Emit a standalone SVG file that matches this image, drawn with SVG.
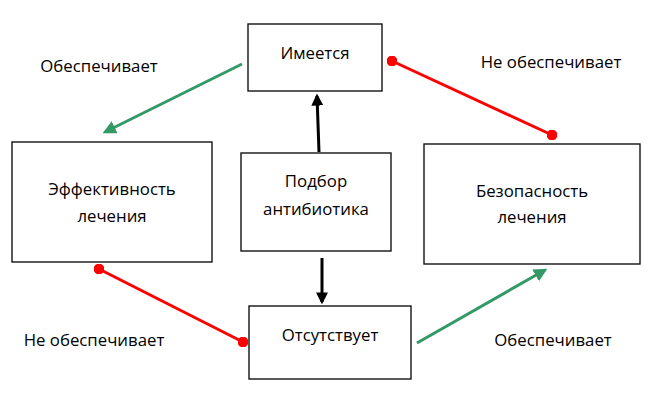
<svg xmlns="http://www.w3.org/2000/svg" width="650" height="400" viewBox="0 0 650 400">
<defs>
<style>
.box{fill:#fff;stroke:#000;stroke-width:1.3}
.t{font-family:"Open Sans","Liberation Sans",sans-serif;font-size:16.8px;fill:#000;text-anchor:middle}
.g{stroke:#339966;stroke-width:3;fill:none}
.r{stroke:#ff0000;stroke-width:3;fill:none}
.k{stroke:#000;stroke-width:3;fill:none}
</style>
<marker id="ag" viewBox="0 0 10 10" refX="8" refY="5" markerWidth="4.5" markerHeight="4.5" markerUnits="strokeWidth" orient="auto"><path d="M0,0L10,5L0,10z" fill="#339966"/></marker>
<marker id="ak" viewBox="0 0 10 10" refX="8" refY="5" markerWidth="4" markerHeight="4" markerUnits="strokeWidth" orient="auto"><path d="M0,0L10,5L0,10z" fill="#000"/></marker>
<marker id="dot" viewBox="0 0 10 10" refX="5" refY="5" markerWidth="3.6" markerHeight="3.6" markerUnits="strokeWidth"><circle cx="5" cy="5" r="5" fill="#ff0000"/></marker>
</defs>
<g id="connectors">
<line class="g" x1="242" y1="64" x2="105" y2="132" marker-end="url(#ag)"/>
<line class="r" x1="392" y1="61" x2="552" y2="135" marker-start="url(#dot)" marker-end="url(#dot)"/>
<line class="r" x1="99" y1="269" x2="243" y2="342" marker-start="url(#dot)" marker-end="url(#dot)"/>
<line class="g" x1="417" y1="343" x2="545" y2="270" marker-end="url(#ag)"/>
<line class="k" x1="319" y1="152" x2="317" y2="96" marker-end="url(#ak)"/>
<line class="k" x1="322" y1="258" x2="322" y2="302" marker-end="url(#ak)"/>
</g>
<g id="n-imeetsya"><rect class="box" x="248" y="24" width="134" height="67"/><text class="t" x="315" y="59">Имеется</text></g>
<g id="n-effekt"><rect class="box" x="12" y="142" width="200" height="120"/><text class="t" x="112" y="195">Эффективность</text><text class="t" x="112" y="222">лечения</text></g>
<g id="n-podbor"><rect class="box" x="241" y="153" width="150" height="98"/><text class="t" x="316" y="187">Подбор</text><text class="t" x="316" y="215">антибиотика</text></g>
<g id="n-bezop"><rect class="box" x="424" y="144" width="216" height="120"/><text class="t" x="532" y="197">Безопасность</text><text class="t" x="532" y="223">лечения</text></g>
<g id="n-otsut"><rect class="box" x="249" y="306" width="162" height="73"/><text class="t" x="330" y="341">Отсутствует</text></g>
<g id="labels">
<text class="t" x="99" y="72">Обеспечивает</text>
<text class="t" x="551" y="68">Не обеспечивает</text>
<text class="t" x="94" y="346">Не обеспечивает</text>
<text class="t" x="553" y="346">Обеспечивает</text>
</g>
</svg>
